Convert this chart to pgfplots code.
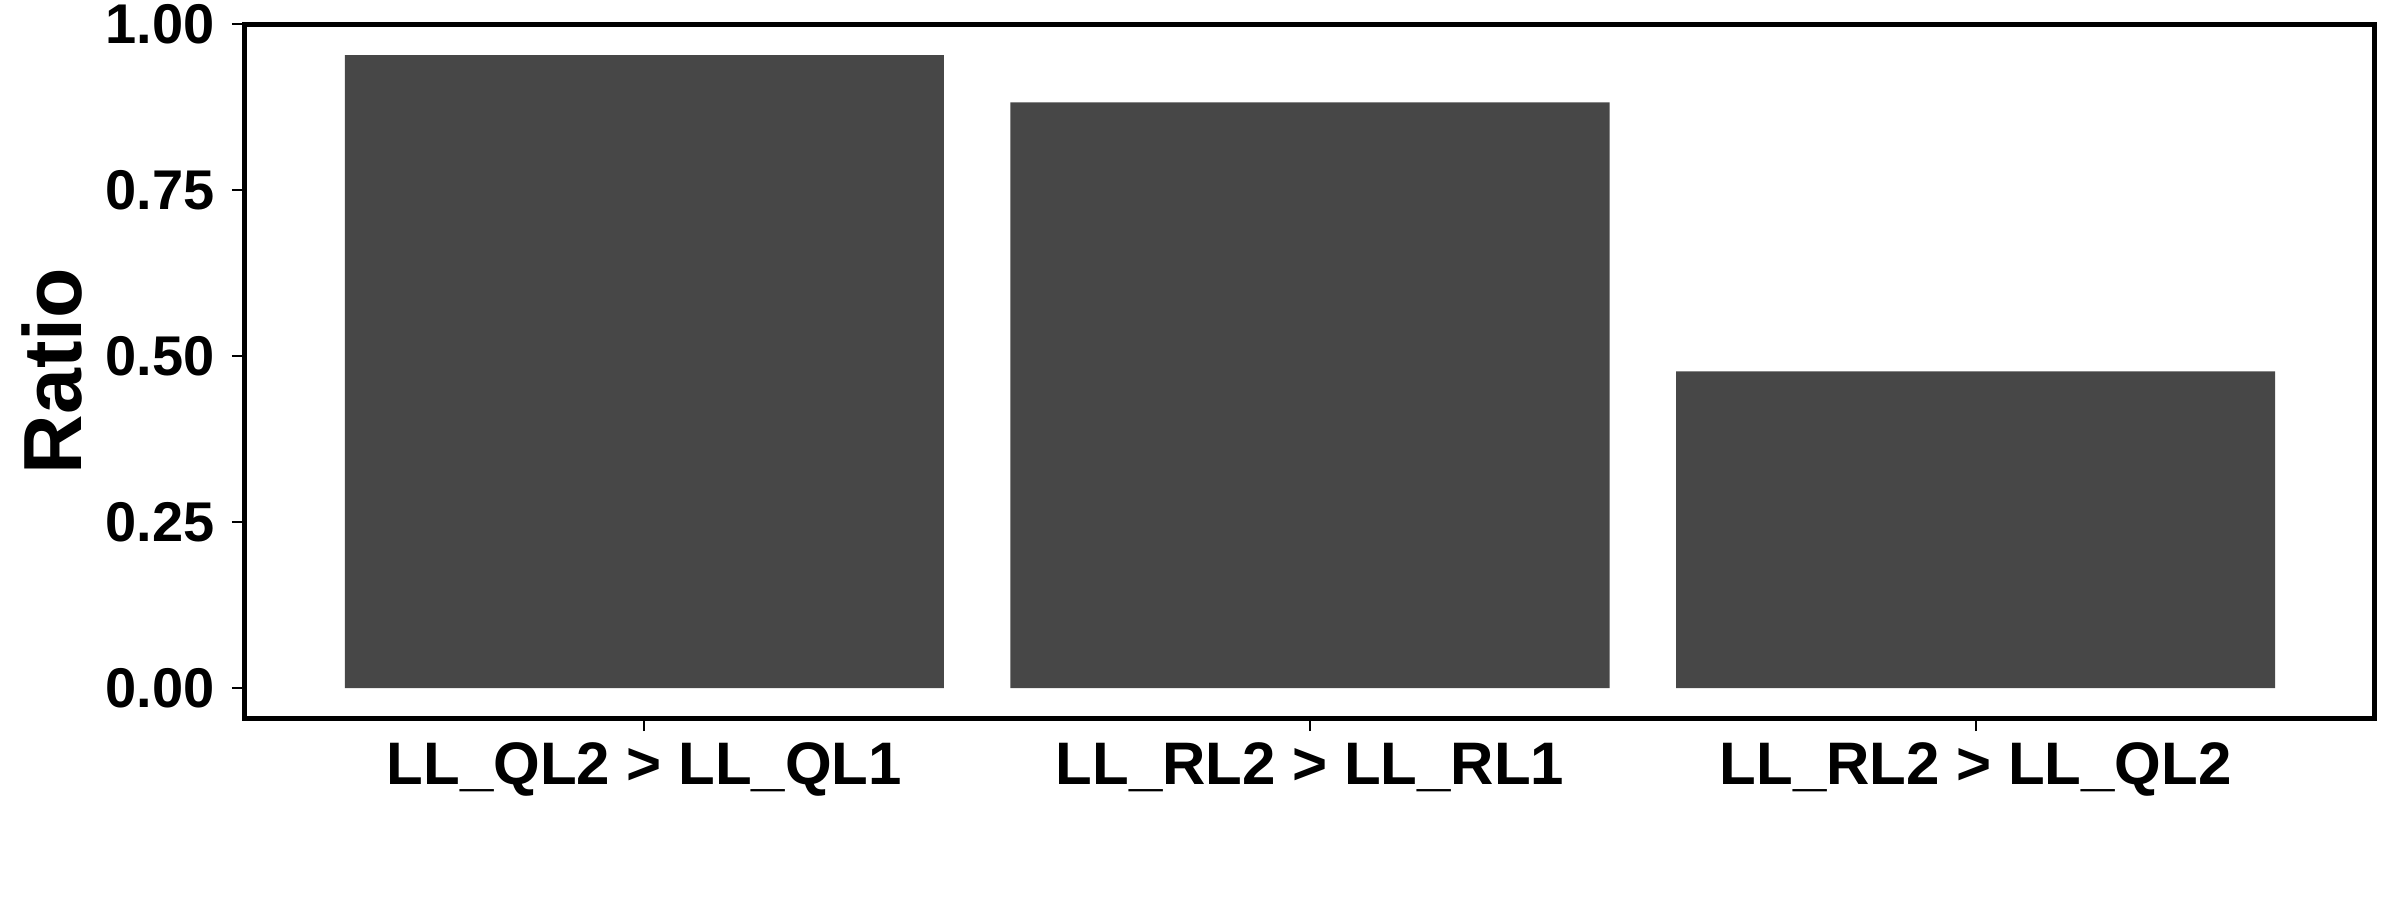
\documentclass[border=0pt]{standalone}
\usepackage{pgfplots}
\pgfplotsset{compat=1.18}
\usepackage{fontspec}
\setmainfont{Liberation Sans}
\definecolor{barc}{HTML}{474747}
\begin{document}
\begin{tikzpicture}
\useasboundingbox (0,0) rectangle (480pt,180pt);
\begin{axis}[
  at={(49pt,36.4pt)}, anchor=south west,
  scale only axis, width=426pt, height=138.8pt,
  xmin=-0.6, xmax=2.6, ymin=-0.045, ymax=1.0,
  xtick={0,1,2},
  xticklabels={LL\_QL2 > LL\_QL1, LL\_RL2 > LL\_RL1, LL\_RL2 > LL\_QL2},
  ytick={0,0.25,0.5,0.75,1},
  yticklabel style={/pgf/number format/fixed, /pgf/number format/fixed zerofill, /pgf/number format/precision=2, /pgf/number format/assume math mode=true, font=\fontsize{11.2}{13}\selectfont\bfseries},
  xticklabel style={font=\fontsize{12}{14}\selectfont\bfseries, yshift=1.2pt},
  axis line style={line width=1pt},
  tick style={line width=0.4pt, black},
  tick align=outside, major tick length=2.6pt,
  xtick pos=bottom, ytick pos=left,
  ylabel={Ratio},
  ylabel style={font=\fontsize{16.5}{18}\selectfont\bfseries, at={(rel axis cs:0,0.5)}, anchor=center, rotate=0, yshift=38.6pt},
  ybar, bar width=0.9,
]
\addplot[fill=barc, draw=none] coordinates {(0,0.953) (1,0.882) (2,0.477)};
\end{axis}
\end{tikzpicture}
\end{document}
